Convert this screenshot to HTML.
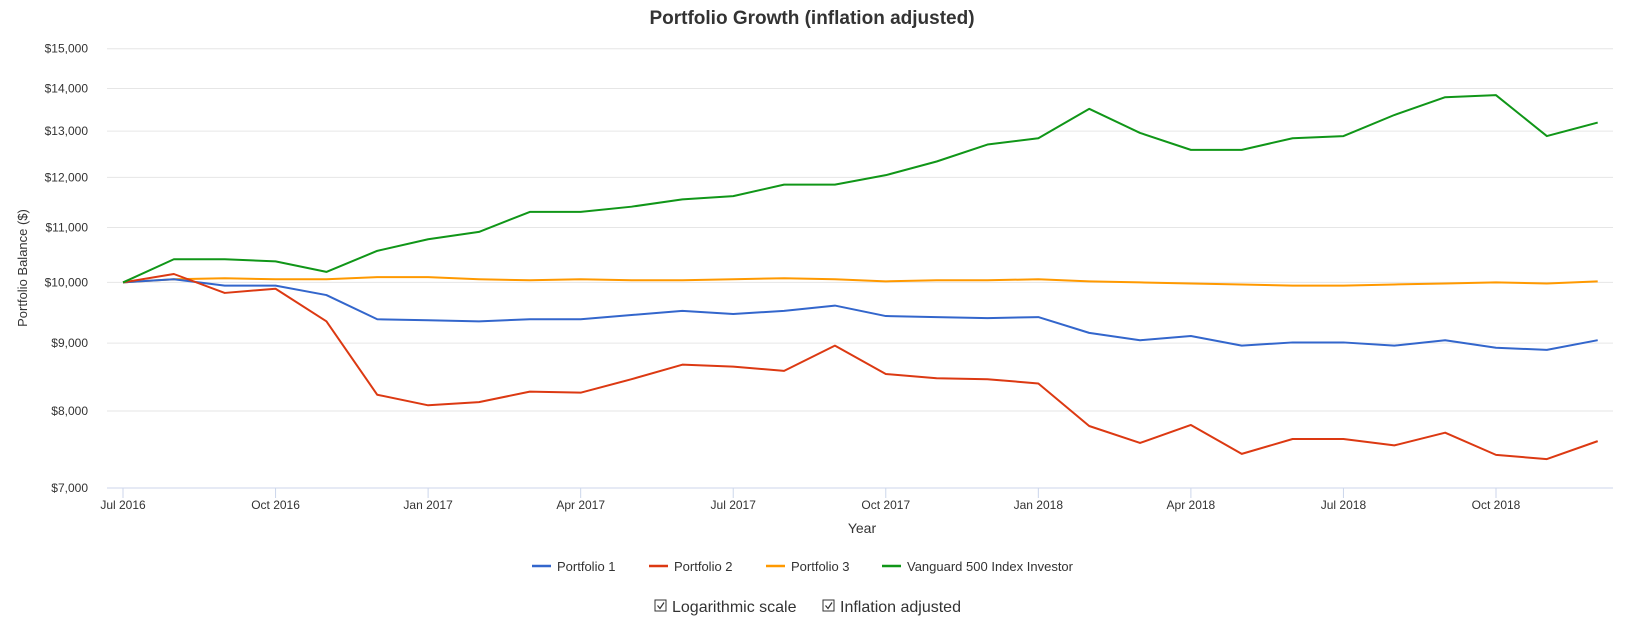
<!DOCTYPE html>
<html><head><meta charset="utf-8"><style>
body{margin:0;background:#fff;font-family:"Liberation Sans",Arial,sans-serif}
svg{display:block}
</style></head><body>
<svg id="chart" width="1639" height="626" xmlns="http://www.w3.org/2000/svg">
<text x="812" y="24" text-anchor="middle" font-size="19" font-weight="bold" fill="#333">Portfolio Growth (inflation adjusted)</text>
<g id="grid"></g>
<g id="yticks"></g>
<g id="xticks"></g>
<text x="27" y="268" transform="rotate(-90 27 268)" text-anchor="middle" font-size="13" fill="#333">Portfolio Balance ($)</text>
<text x="862" y="533" text-anchor="middle" font-size="14" fill="#333">Year</text>
<g id="series"></g>
<g font-size="13" fill="#333">
 <g><line x1="532" y1="566" x2="551" y2="566" stroke="#3366cc" stroke-width="2.5"/><text x="557" y="571">Portfolio 1</text></g>
 <g><line x1="649" y1="566" x2="668" y2="566" stroke="#dc3912" stroke-width="2.5"/><text x="674" y="571">Portfolio 2</text></g>
 <g><line x1="766" y1="566" x2="785" y2="566" stroke="#ff9900" stroke-width="2.5"/><text x="791" y="571">Portfolio 3</text></g>
 <g><line x1="882" y1="566" x2="901" y2="566" stroke="#109618" stroke-width="2.5"/><text x="907" y="571">Vanguard 500 Index Investor</text></g>
</g>
<g>
 <rect x="655" y="600" width="11" height="11" fill="#fff" stroke="#333" stroke-width="1"/>
 <path d="M657.5 605.5 l2.5 3 l4 -6" fill="none" stroke="#333" stroke-width="1.2"/>
 <text x="672" y="612" font-size="16" fill="#333">Logarithmic scale</text>
</g>
<g>
 <rect x="823" y="600" width="11" height="11" fill="#fff" stroke="#333" stroke-width="1"/>
 <path d="M825.5 605.5 l2.5 3 l4 -6" fill="none" stroke="#333" stroke-width="1.2"/>
 <text x="840" y="612" font-size="16" fill="#333">Inflation adjusted</text>
</g>
</svg>
<script>
const months = ["2016-07","2016-08","2016-09","2016-10","2016-11","2016-12","2017-01","2017-02","2017-03","2017-04","2017-05","2017-06","2017-07","2017-08","2017-09","2017-10","2017-11","2017-12","2018-01","2018-02","2018-03","2018-04","2018-05","2018-06","2018-07","2018-08","2018-09","2018-10","2018-11","2018-12"];
const portfolio1 = [10000,10055,9945,9945,9783,9381,9364,9347,9381,9381,9450,9519,9467,9519,9606,9433,9416,9399,9416,9162,9046,9112,8961,9011,9011,8961,9046,8928,8896,9046];
const portfolio2 = [10000,10147,9819,9891,9347,8229,8080,8124,8274,8259,8454,8670,8640,8577,8961,8531,8469,8454,8392,7795,7569,7809,7427,7621,7621,7537,7705,7414,7360,7593];
const portfolio3 = [10000,10055,10073,10055,10055,10092,10092,10055,10037,10055,10037,10037,10055,10073,10055,10018,10037,10037,10055,10018,10000,9982,9964,9945,9945,9964,9982,10000,9982,10018];
const vanguard = [10000,10410,10410,10372,10184,10563,10777,10916,11301,11301,11404,11550,11615,11849,11849,12045,12334,12702,12842,13514,12961,12585,12585,12842,12890,13370,13789,13838,12890,13196];
const yTicks = [7000,8000,9000,10000,11000,12000,13000,14000,15000];
const xTickLabels = ["Jul 2016","Oct 2016","Jan 2017","Apr 2017","Jul 2017","Oct 2017","Jan 2018","Apr 2018","Jul 2018","Oct 2018"];
const xTickIdx = [0,3,6,9,12,15,18,21,24,27];

const NS="http://www.w3.org/2000/svg";
const x0=123, x1=1496, yMin=7000, yMax=15000, yBot=488, yTop=48.7;
const X = i => x0 + (x1-x0)*i/27;
const Y = v => yBot - (yBot-yTop)*Math.log(v/yMin)/Math.log(yMax/yMin);
function mk(tag, attrs, parent){const e=document.createElementNS(NS,tag);for(const k in attrs)e.setAttribute(k,attrs[k]);parent.appendChild(e);return e;}
const grid=document.getElementById('grid'), yt=document.getElementById('yticks'), xt=document.getElementById('xticks'), ser=document.getElementById('series');
yTicks.forEach(v=>{
  const y=Y(v);
  const l=mk('line',{x1:107,x2:1613,y1:y,y2:y,stroke:v===yMin?'#ccd6eb':'#e6e6e6','stroke-width':1},grid);
  
  
  const t=mk('text',{x:88,y:y+4,'text-anchor':'end','font-size':12,fill:'#333'},yt);
  t.textContent='$'+v.toLocaleString('en-US');
  
  
});
xTickIdx.forEach((idx,k)=>{
  const x=X(idx);
  const tk=mk('line',{x1:x,x2:x,y1:yBot,y2:yBot+10,stroke:'#ccd6eb','stroke-width':1},xt);
  
  
  const t=mk('text',{x:x,y:yBot+21,'text-anchor':'middle','font-size':12,fill:'#333'},xt);
  t.textContent=xTickLabels[k];
  
  
});
[[portfolio3,'#ff9900','line-portfolio-3'],[portfolio1,'#3366cc','line-portfolio-1'],[portfolio2,'#dc3912','line-portfolio-2'],[vanguard,'#109618','line-vanguard-500']].forEach(([d,c,n])=>{
  const p=mk('polyline',{points:d.map((v,i)=>X(i)+','+Y(v)).join(' '),fill:'none',stroke:c,'stroke-width':2,'stroke-linejoin':'round'},ser);
  
  
});
</script>
</body></html>
